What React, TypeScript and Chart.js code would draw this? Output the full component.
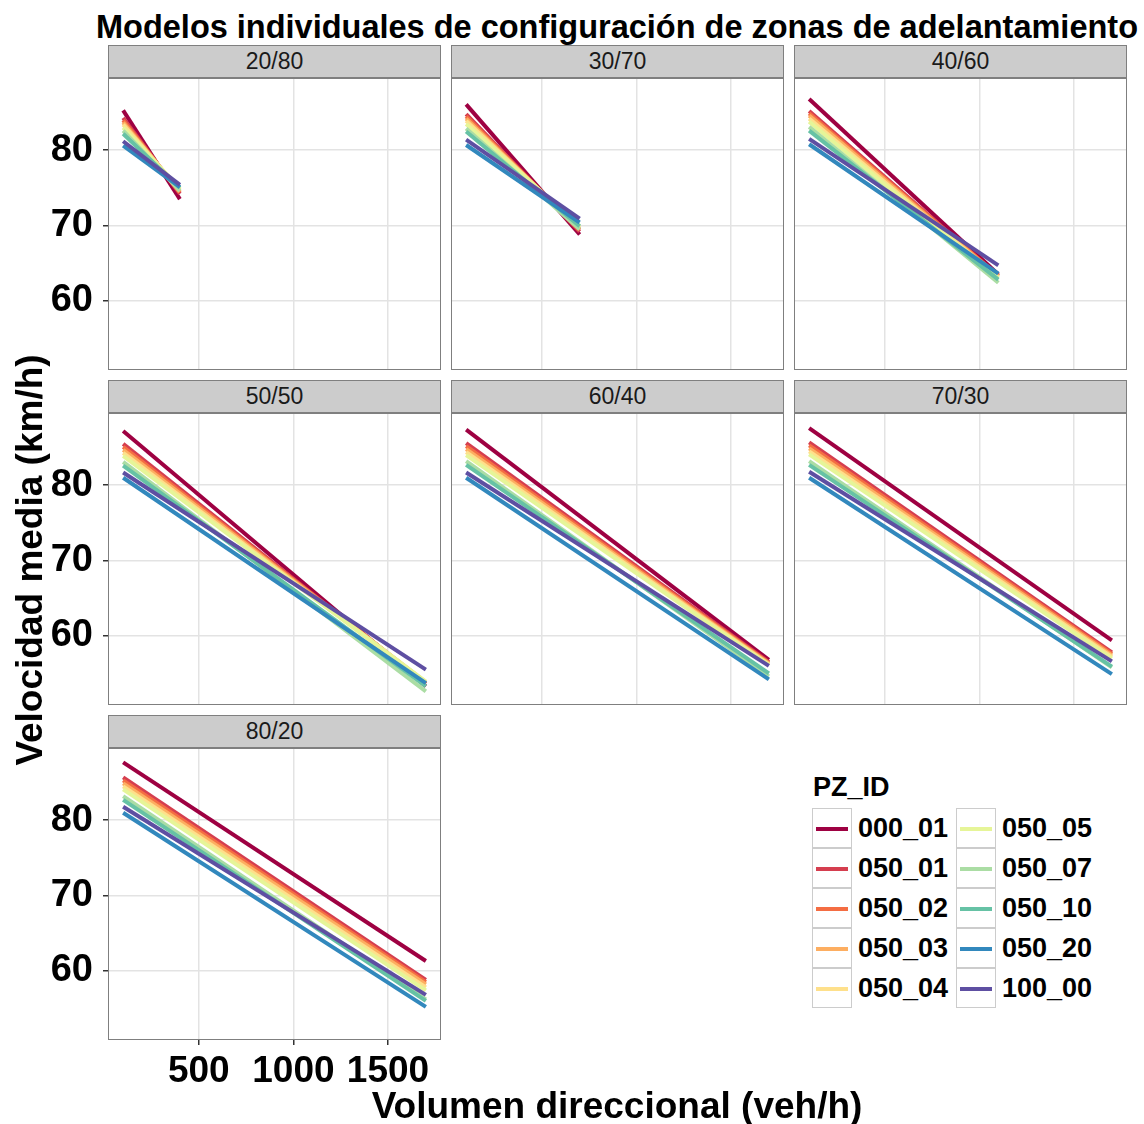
import React, { useEffect, useRef } from "react";
import { Chart, registerables } from "chart.js";
Chart.register(...registerables);

// ---------- data ----------
const panelNames = ["20/80", "30/70", "40/60", "50/50", "60/40", "70/30", "80/20"];
const seriesIds = ["000_01", "050_01", "050_02", "050_03", "050_04", "050_05", "050_07", "050_10", "050_20", "100_00"];
const seriesColors = ["#9E0142", "#D53E4F", "#F46D43", "#FDAE61", "#FEE08B", "#E6F598", "#ABDDA4", "#66C2A5", "#3288BD", "#5E4FA2"];

const volumeStart = 100;
const volumeEnd = [400, 700, 1100, 1700, 1700, 1700, 1700];

// speed at volumeStart (per series, same order as seriesIds)
const start2080 = [85.3, 84.3, 84.0, 83.7, 83.4, 83.0, 82.6, 82.2, 80.6, 81.2];
const start3070 = [86.1, 84.8, 84.5, 84.2, 83.9, 83.5, 82.9, 82.5, 80.7, 81.4];
const start4060 = [86.8, 85.2, 84.9, 84.6, 84.2, 83.8, 83.1, 82.6, 80.8, 81.5];
const start5050 = [87.2, 85.5, 85.1, 84.7, 84.3, 83.9, 83.1, 82.6, 81.0, 81.7];
const start6040 = [87.4, 85.6, 85.2, 84.8, 84.4, 84.0, 83.2, 82.7, 81.0, 81.7];
const start7030 = [87.6, 85.7, 85.3, 84.9, 84.5, 84.1, 83.2, 82.7, 81.0, 81.8];
const start8020 = [87.7, 85.7, 85.3, 84.9, 84.5, 84.1, 83.2, 82.7, 81.0, 81.8];

// speed at volumeEnd
const end2080 = [73.5, 74.2, 74.4, 74.5, 74.7, 74.9, 74.6, 75.0, 75.1, 75.4];
const end3070 = [68.8, 69.2, 69.4, 69.5, 69.7, 69.9, 69.5, 69.9, 70.4, 70.9];
const end4060 = [63.5, 63.3, 63.3, 63.2, 63.1, 63.0, 62.4, 62.8, 63.6, 64.7];
const end5050 = [53.3, 53.6, 53.7, 53.8, 53.8, 53.9, 52.6, 53.3, 53.7, 55.5];
const end6040 = [56.8, 56.5, 56.4, 56.3, 56.2, 56.1, 54.6, 55.0, 54.2, 56.0];
const end7030 = [59.4, 57.8, 57.6, 57.4, 57.2, 57.0, 55.8, 55.9, 54.9, 56.6];
const end8020 = [61.3, 58.8, 58.5, 58.2, 57.8, 57.4, 56.2, 56.0, 55.2, 56.8];

const startSpeeds = [start2080, start3070, start4060, start5050, start6040, start7030, start8020];
const endSpeeds = [end2080, end3070, end4060, end5050, end6040, end7030, end8020];

const xGrid = [250, 500, 750, 1000, 1250, 1500, 1750];
const xTickLabels = [500, 1000, 1500];
const yGrid = [55, 60, 65, 70, 75, 80, 85];
const yTickLabels = [60, 70, 80];

// ---------- layout ----------
const FONT = "'Liberation Sans', Arial, Helvetica, sans-serif";
const colLeft = [108, 451, 794];
const rowTop = [45, 380, 715];
const STRIP_H = 33;
const PANEL_W = 333;
const PANEL_H = 292;
const AXIS_W = 90;
const AXIS_H = 60;
const MAJOR = "#E3E3E3";
const MINOR = "#F1F1F1";

function Panel({ idx }: { idx: number }) {
  const ref = useRef<HTMLCanvasElement | null>(null);
  const col = idx % 3;
  const row = Math.floor(idx / 3);
  const showY = col === 0;
  const showX = idx === 6;
  const left = colLeft[col] - (showY ? AXIS_W : 0);
  const top = rowTop[row] + STRIP_H;
  const w = PANEL_W + (showY ? AXIS_W : 0);
  const h = PANEL_H + (showX ? AXIS_H : 0);

  useEffect(() => {
    if (!ref.current) return;
    const datasets = seriesIds.map((id, i) => ({
      label: id,
      data: [
        { x: volumeStart, y: startSpeeds[idx][i] },
        { x: volumeEnd[idx], y: endSpeeds[idx][i] },
      ],
      borderColor: seriesColors[i],
      backgroundColor: seriesColors[i],
      borderWidth: 4,
      pointRadius: 0,
      tension: 0,
      order: seriesIds.length - i,
    }));
    const chart = new Chart(ref.current, {
      type: "line",
      data: { datasets },
      options: {
        animation: false,
        responsive: false,
        devicePixelRatio: 1,
        layout: { padding: 0 },
        plugins: { legend: { display: false }, tooltip: { enabled: false } },
        scales: {
          x: {
            type: "linear",
            min: 20,
            max: 1780,
            afterBuildTicks: (s: any) => {
              s.ticks = xGrid.map((v) => ({ value: v }));
            },
            afterFit: (s: any) => {
              s.height = showX ? AXIS_H : 0;
              s.paddingLeft = 0;
              s.paddingRight = 0;
            },
            border: { display: false },
            grid: {
              color: (c: any) => (c.tick && xTickLabels.includes(c.tick.value) ? MAJOR : MINOR),
              lineWidth: (c: any) => (c.tick && xTickLabels.includes(c.tick.value) ? 1.5 : 1),
              drawTicks: showX,
              tickLength: 5,
              tickWidth: 1.5,
              tickColor: (c: any) => (c.tick && xTickLabels.includes(c.tick.value) ? "#333333" : "rgba(0,0,0,0)"),
            },
            ticks: {
              display: showX,
              autoSkip: false,
              maxRotation: 0,
              padding: 5,
              color: "#000000",
              font: { family: FONT, size: 37, weight: "bold" },
              callback: (v: any) => (xTickLabels.includes(v) ? String(v) : null),
            },
          },
          y: {
            type: "linear",
            min: 50.8,
            max: 89.6,
            afterBuildTicks: (s: any) => {
              s.ticks = yGrid.map((v) => ({ value: v }));
            },
            afterFit: (s: any) => {
              s.width = showY ? AXIS_W : 0;
              s.paddingTop = 0;
              s.paddingBottom = 0;
            },
            border: { display: false },
            grid: {
              color: (c: any) => (c.tick && yTickLabels.includes(c.tick.value) ? MAJOR : MINOR),
              lineWidth: (c: any) => (c.tick && yTickLabels.includes(c.tick.value) ? 1.5 : 1),
              drawTicks: showY,
              tickLength: 5,
              tickWidth: 1.5,
              tickColor: (c: any) => (c.tick && yTickLabels.includes(c.tick.value) ? "#333333" : "rgba(0,0,0,0)"),
            },
            ticks: {
              display: showY,
              autoSkip: false,
              padding: 10,
              color: "#000000",
              font: { family: FONT, size: 38, weight: "bold" },
              callback: (v: any) => (yTickLabels.includes(v) ? String(v) : null),
            },
          },
        },
      },
    } as any);
    return () => chart.destroy();
  }, [idx]);

  return (
    <>
      <div
        style={{
          position: "absolute",
          left: colLeft[col],
          top: rowTop[row],
          width: PANEL_W,
          height: STRIP_H,
          boxSizing: "border-box",
          background: "#CCCCCC",
          border: "1px solid #7F7F7F",
          display: "flex",
          alignItems: "center",
          justifyContent: "center",
          fontFamily: FONT,
          fontSize: 23,
          color: "#1A1A1A",
        }}
      >
        {panelNames[idx]}
      </div>
      <canvas
        ref={ref}
        width={w}
        height={h}
        style={{ position: "absolute", left, top, width: w, height: h }}
      />
      <div
        style={{
          position: "absolute",
          left: colLeft[col],
          top: top,
          width: PANEL_W,
          height: PANEL_H,
          boxSizing: "border-box",
          border: "1.5px solid #7F7F7F",
          pointerEvents: "none",
        }}
      />
    </>
  );
}

function Legend() {
  const rows = 5;
  return (
    <div style={{ position: "absolute", left: 812, top: 770, fontFamily: FONT }}>
      <div style={{ position: "absolute", left: 1, top: 0, fontSize: 27, lineHeight: "34px", fontWeight: "bold", whiteSpace: "nowrap" }}>PZ_ID</div>
      {seriesIds.map((id, i) => {
        const c = Math.floor(i / rows);
        const r = i % rows;
        const x = c * 144;
        const y = 38 + r * 40;
        return (
          <div key={id} style={{ position: "absolute", left: x, top: y, width: 140, height: 40 }}>
            <div
              style={{
                position: "absolute",
                left: 0,
                top: 0,
                width: 40,
                height: 40,
                boxSizing: "border-box",
                border: "1px solid #CCCCCC",
                background: "#FFFFFF",
              }}
            >
              <div style={{ position: "absolute", left: 3, right: 3, top: 18, height: 4, background: seriesColors[i] }} />
            </div>
            <div
              style={{
                position: "absolute",
                left: 46,
                top: 0,
                height: 40,
                lineHeight: "40px",
                fontSize: 27,
                fontWeight: "bold",
                whiteSpace: "nowrap",
              }}
            >
              {id}
            </div>
          </div>
        );
      })}
    </div>
  );
}

export default function App() {
  return (
    <div style={{ position: "absolute", left: 0, top: 0, width: 1144, height: 1124, background: "#FFFFFF", fontFamily: FONT, overflow: "hidden" }}>
      <div
        style={{
          position: "absolute",
          left: 617 - 600,
          top: 7,
          width: 1200,
          textAlign: "center",
          fontSize: 32.5,
          fontWeight: "bold",
          whiteSpace: "nowrap",
          lineHeight: "40px",
        }}
      >
        Modelos individuales de configuración de zonas de adelantamiento
      </div>
      {panelNames.map((_, i) => (
        <Panel key={i} idx={i} />
      ))}
      <Legend />
      <div
        style={{
          position: "absolute",
          left: 617 - 300,
          width: 600,
          top: 1085,
          textAlign: "center",
          fontSize: 37,
          fontWeight: "bold",
          whiteSpace: "nowrap",
          lineHeight: "42px",
        }}
      >
        Volumen direccional (veh/h)
      </div>
      <div
        style={{
          position: "absolute",
          left: 30 - 300,
          top: 560 - 21,
          width: 600,
          height: 42,
          textAlign: "center",
          fontSize: 37,
          fontWeight: "bold",
          whiteSpace: "nowrap",
          lineHeight: "42px",
          transform: "rotate(-90deg)",
        }}
      >
        Velocidad media (km/h)
      </div>
    </div>
  );
}
